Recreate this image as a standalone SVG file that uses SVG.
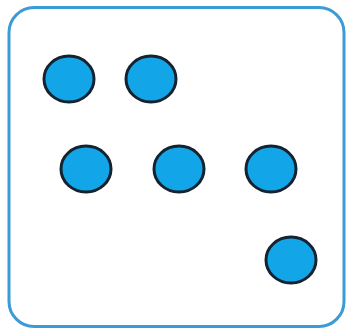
<svg xmlns="http://www.w3.org/2000/svg" width="348" height="330" viewBox="0 0 348 330">
<style>
.dot{fill:#12a5e8;stroke:#14232f;stroke-width:3}
.frame{fill:#fff;stroke:#3b9bd6;stroke-width:3}
</style>
<rect x="0" y="0" width="348" height="330" fill="#fff"/>
<rect class="frame" x="9" y="7.5" width="335" height="319" rx="25" ry="25"/>
<g id="n1"><ellipse class="dot" cx="69" cy="79" rx="25" ry="23"/></g>
<g id="n2"><ellipse class="dot" cx="151" cy="79" rx="25" ry="23"/></g>
<g id="n3"><ellipse class="dot" cx="86" cy="169" rx="25" ry="23"/></g>
<g id="n4"><ellipse class="dot" cx="179" cy="169" rx="25" ry="23"/></g>
<g id="n5"><ellipse class="dot" cx="271" cy="169" rx="25" ry="23"/></g>
<g id="n6"><ellipse class="dot" cx="291" cy="260" rx="25" ry="23"/></g>
<g id="connectors"></g>
</svg>
